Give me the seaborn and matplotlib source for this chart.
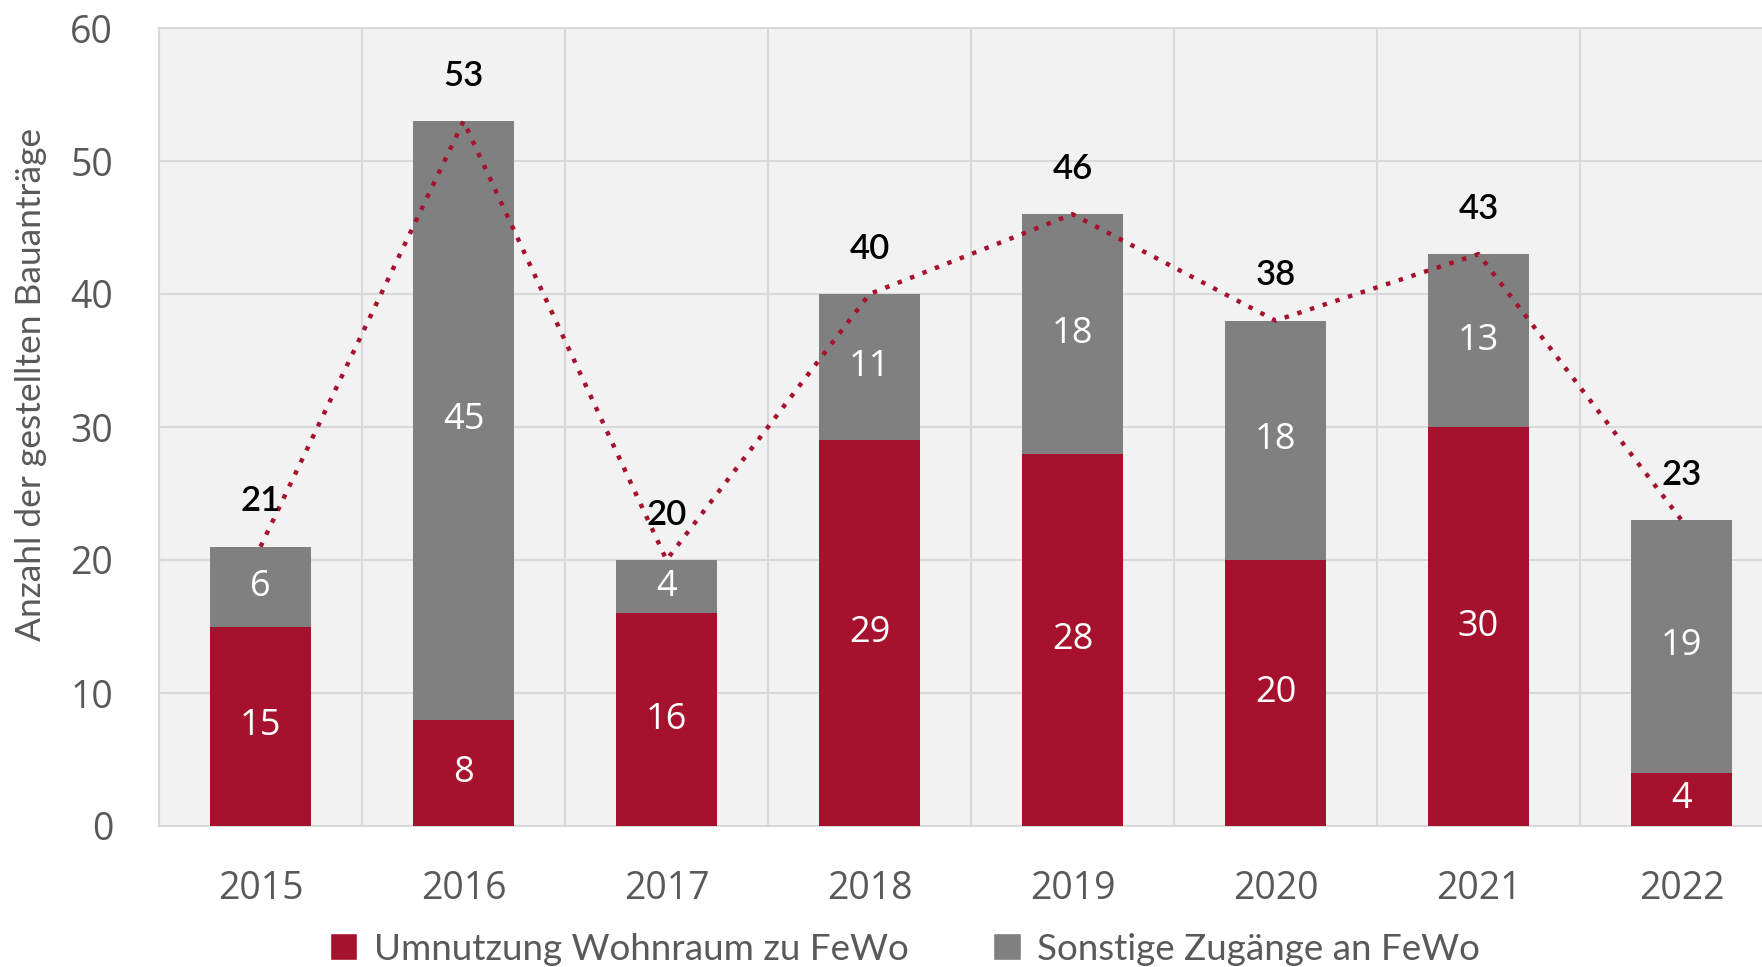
import matplotlib
matplotlib.use("Agg")
import matplotlib.pyplot as plt
import seaborn as sns
import numpy as np
import pandas as pd
from matplotlib.patches import Patch

years = ["2015", "2016", "2017", "2018", "2019", "2020", "2021", "2022"]
umnutzung = [15, 8, 16, 29, 28, 20, 30, 4]
sonstige = [6, 45, 4, 11, 18, 18, 13, 19]
totals = [a + b for a, b in zip(umnutzung, sonstige)]
yticks = [0, 10, 20, 30, 40, 50, 60]

RED = "#A6122D"
GRAY = "#808080"
TXT = "#595959"

sns.set_theme(style="white")
plt.rcParams["font.family"] = ["Lato", "DejaVu Sans"]

df = pd.DataFrame({"year": years, "red": umnutzung, "gray": sonstige, "total": totals})

fig = plt.figure(figsize=(17.62, 9.67), dpi=100)
ax = fig.add_axes([159 / 1762, 1 - 826 / 967, 1624 / 1762, (826 - 28) / 967])
ax.set_facecolor("#F2F2F2")

sns.barplot(data=df, x="year", y="total", color=GRAY, width=0.5, ax=ax,
            saturation=1, errorbar=None, zorder=3, linewidth=0, edgecolor="none")
sns.barplot(data=df, x="year", y="red", color=RED, width=0.5, ax=ax,
            saturation=1, errorbar=None, zorder=3, linewidth=0, edgecolor="none")

xs = np.arange(len(years))
ax.plot(xs, totals, linestyle=(0, (1, 2.0)), color=RED, linewidth=3.2, zorder=4)

for i in range(len(years)):
    r, g, t = umnutzung[i], sonstige[i], totals[i]
    ax.text(i, r / 2, str(r), ha="center", va="center", color="white", fontsize=26,
            fontfamily=["Open Sans", "DejaVu Sans"], zorder=5)
    ax.text(i, r + g / 2, str(g), ha="center", va="center", color="white", fontsize=26,
            fontfamily=["Open Sans", "DejaVu Sans"], zorder=5)
    ax.text(i, t + 2.2, str(t), ha="center", va="bottom", color="black", fontsize=25,
            fontweight="semibold", zorder=5)

ax.set_ylim(0, 60)
ax.set_xlim(-0.5, len(years) - 0.5)
ax.set_yticks(yticks)
ax.set_yticklabels([str(v) for v in yticks])
ax.set_xticks(xs, minor=False)
ax.set_xticks(np.arange(-0.5, len(years), 1.0), minor=True)
ax.grid(False)
ax.yaxis.grid(True, color="#D9D9D9", linewidth=1.5, zorder=0)
ax.xaxis.grid(True, which="minor", color="#D9D9D9", linewidth=1.5, zorder=0)
ax.set_axisbelow(True)
ax.tick_params(axis="both", which="both", length=0, labelsize=27, colors=TXT)
ax.tick_params(axis="y", pad=33)
ax.tick_params(axis="x", pad=32)
for lab in ax.get_yticklabels():
    lab.set_fontfamily(["Open Sans", "DejaVu Sans"])
for lab in ax.get_xticklabels():
    lab.set_fontfamily(["Open Sans", "DejaVu Sans"])
ax.set_xlabel("")
ax.set_ylabel("")
fig.text(31 / 1762, 1 - 384 / 967, "Anzahl der gestellten Bauanträge", rotation=90,
         ha="center", va="center", fontsize=25.5, color=TXT)
for s in ["top", "left", "bottom"]:
    ax.spines[s].set_color("#D9D9D9")
    ax.spines[s].set_linewidth(1.5)
ax.spines["right"].set_visible(False)

handles = [Patch(facecolor=RED, label="Umnutzung Wohnraum zu FeWo"),
           Patch(facecolor=GRAY, label="Sonstige Zugänge an FeWo")]
leg = fig.legend(handles=handles, loc="center", bbox_to_anchor=(905 / 1762, 1 - 949 / 967),
                 ncol=2, frameon=False, fontsize=26.5, handlelength=0.75, handleheight=0.75,
                 handletextpad=0.45, columnspacing=2.3)
for t in leg.get_texts():
    t.set_color(TXT)

fig.savefig("out.png", dpi=100)
